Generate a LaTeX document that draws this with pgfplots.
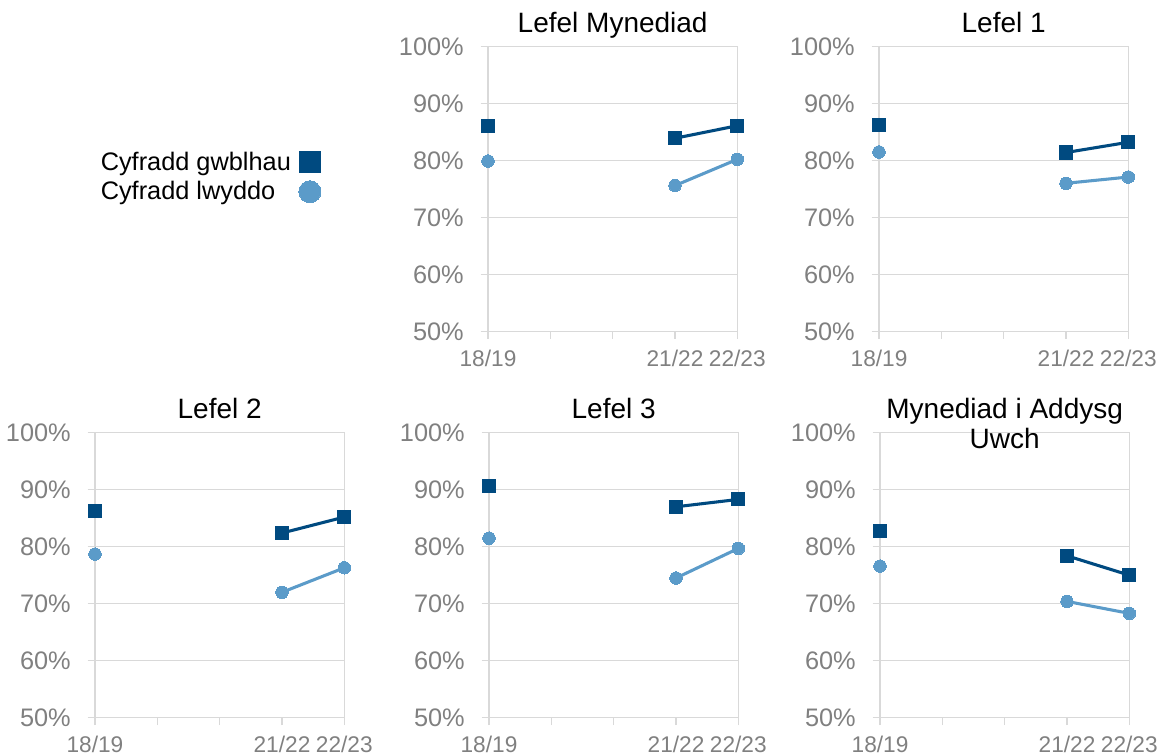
\documentclass[border=0pt]{standalone}
\usepackage{fontspec}
\setmainfont{Liberation Sans}
\usepackage{pgfplots}
\pgfplotsset{compat=1.18}
\definecolor{dblue}{RGB}{0,74,128}
\definecolor{lblue}{RGB}{91,155,201}
\definecolor{gridc}{RGB}{217,217,217}
\definecolor{labc}{RGB}{128,128,128}
\pgfplotsset{
  panel/.style={
    scale only axis, width=187pt, height=213.75pt,
    xmin=0, xmax=4, ymin=50, ymax=100,
    xtick={0,1,2,3,4}, xticklabels={18/19,,,21/22,22/23},
    ytick={50,60,70,80,90,100}, yticklabels={50\%,60\%,70\%,80\%,90\%,100\%},
    xtick pos=bottom, ytick pos=left,
    tick align=outside, major tick length=5.5pt,
    ymajorgrids, grid style={gridc, line width=0.9pt},
    axis line style={gridc, line width=1pt},
    tick style={gridc, line width=0.9pt},
    yticklabel style={font=\fontsize{19}{19}\selectfont, text=labc, inner sep=0pt, anchor=east, xshift=-12.5pt},
    xticklabel style={font=\fontsize{17}{17}\selectfont, text=labc, inner sep=0pt, anchor=north, yshift=-8pt},
    title style={font=\fontsize{21}{22.5}\selectfont, at={(0.5,1)}, anchor=north, yshift=20pt, inner sep=0pt, align=center},
    unbounded coords=jump,
    clip=false,
  },
  comp/.style={dblue, line width=2.3pt, mark=square*, mark size=4.9pt, mark options={solid, line width=0pt}},
  pass/.style={lblue, line width=2.3pt, mark=*, mark size=4.7pt, mark options={solid, line width=0pt}},
}
\begin{document}
\begin{tikzpicture}
\useasboundingbox (0,0) rectangle (871.5pt,566.25pt);
% Panel 1
\begin{axis}[panel, at={(366pt,317.625pt)}, anchor=south west, title={Lefel Mynediad},
  legend style={at={(-1.5594,0.5425)}, anchor=west, draw=none, fill=none, inner sep=0pt,
    font=\fontsize{19}{19}\selectfont, row sep=5pt, column sep=5pt, nodes={inner sep=1pt}},
  legend plot pos=right, legend cell align=left]
\addlegendimage{only marks, mark=square*, mark size=8.1pt, dblue, mark options={line width=0pt}}
\addlegendentry{Cyfradd gwblhau}
\addlegendimage{only marks, mark=*, mark size=8.25pt, lblue, mark options={line width=0pt}}
\addlegendentry{Cyfradd lwyddo}
\addplot[comp, forget plot] coordinates {(0,86.1) (1,nan) (3,83.9) (4,86.1)};
\addplot[pass, forget plot] coordinates {(0,79.9) (1,nan) (3,75.6) (4,80.2)};
\end{axis}
% Panel 2
\begin{axis}[panel, at={(659.25pt,317.625pt)}, anchor=south west, title={Lefel 1}]
\addplot[comp] coordinates {(0,86.3) (1,nan) (3,81.4) (4,83.2)};
\addplot[pass] coordinates {(0,81.5) (1,nan) (3,76.0) (4,77.1)};
\end{axis}
% Panel 3
\begin{axis}[panel, at={(71.25pt,27.975pt)}, anchor=south west, title={Lefel 2}]
\addplot[comp] coordinates {(0,86.3) (1,nan) (3,82.4) (4,85.2)};
\addplot[pass] coordinates {(0,78.7) (1,nan) (3,72.0) (4,76.3)};
\end{axis}
% Panel 4
\begin{axis}[panel, at={(366.75pt,27.975pt)}, anchor=south west, title={Lefel 3}]
\addplot[comp] coordinates {(0,90.65) (1,nan) (3,87.0) (4,88.3)};
\addplot[pass] coordinates {(0,81.5) (1,nan) (3,74.5) (4,79.7)};
\end{axis}
% Panel 5
\begin{axis}[panel, at={(660pt,27.975pt)}, anchor=south west, title={Mynediad i Addysg\\Uwch}]
\addplot[comp] coordinates {(0,82.7) (1,nan) (3,78.4) (4,75.0)};
\addplot[pass] coordinates {(0,76.6) (1,nan) (3,70.4) (4,68.3)};
\end{axis}
\end{tikzpicture}
\end{document}
